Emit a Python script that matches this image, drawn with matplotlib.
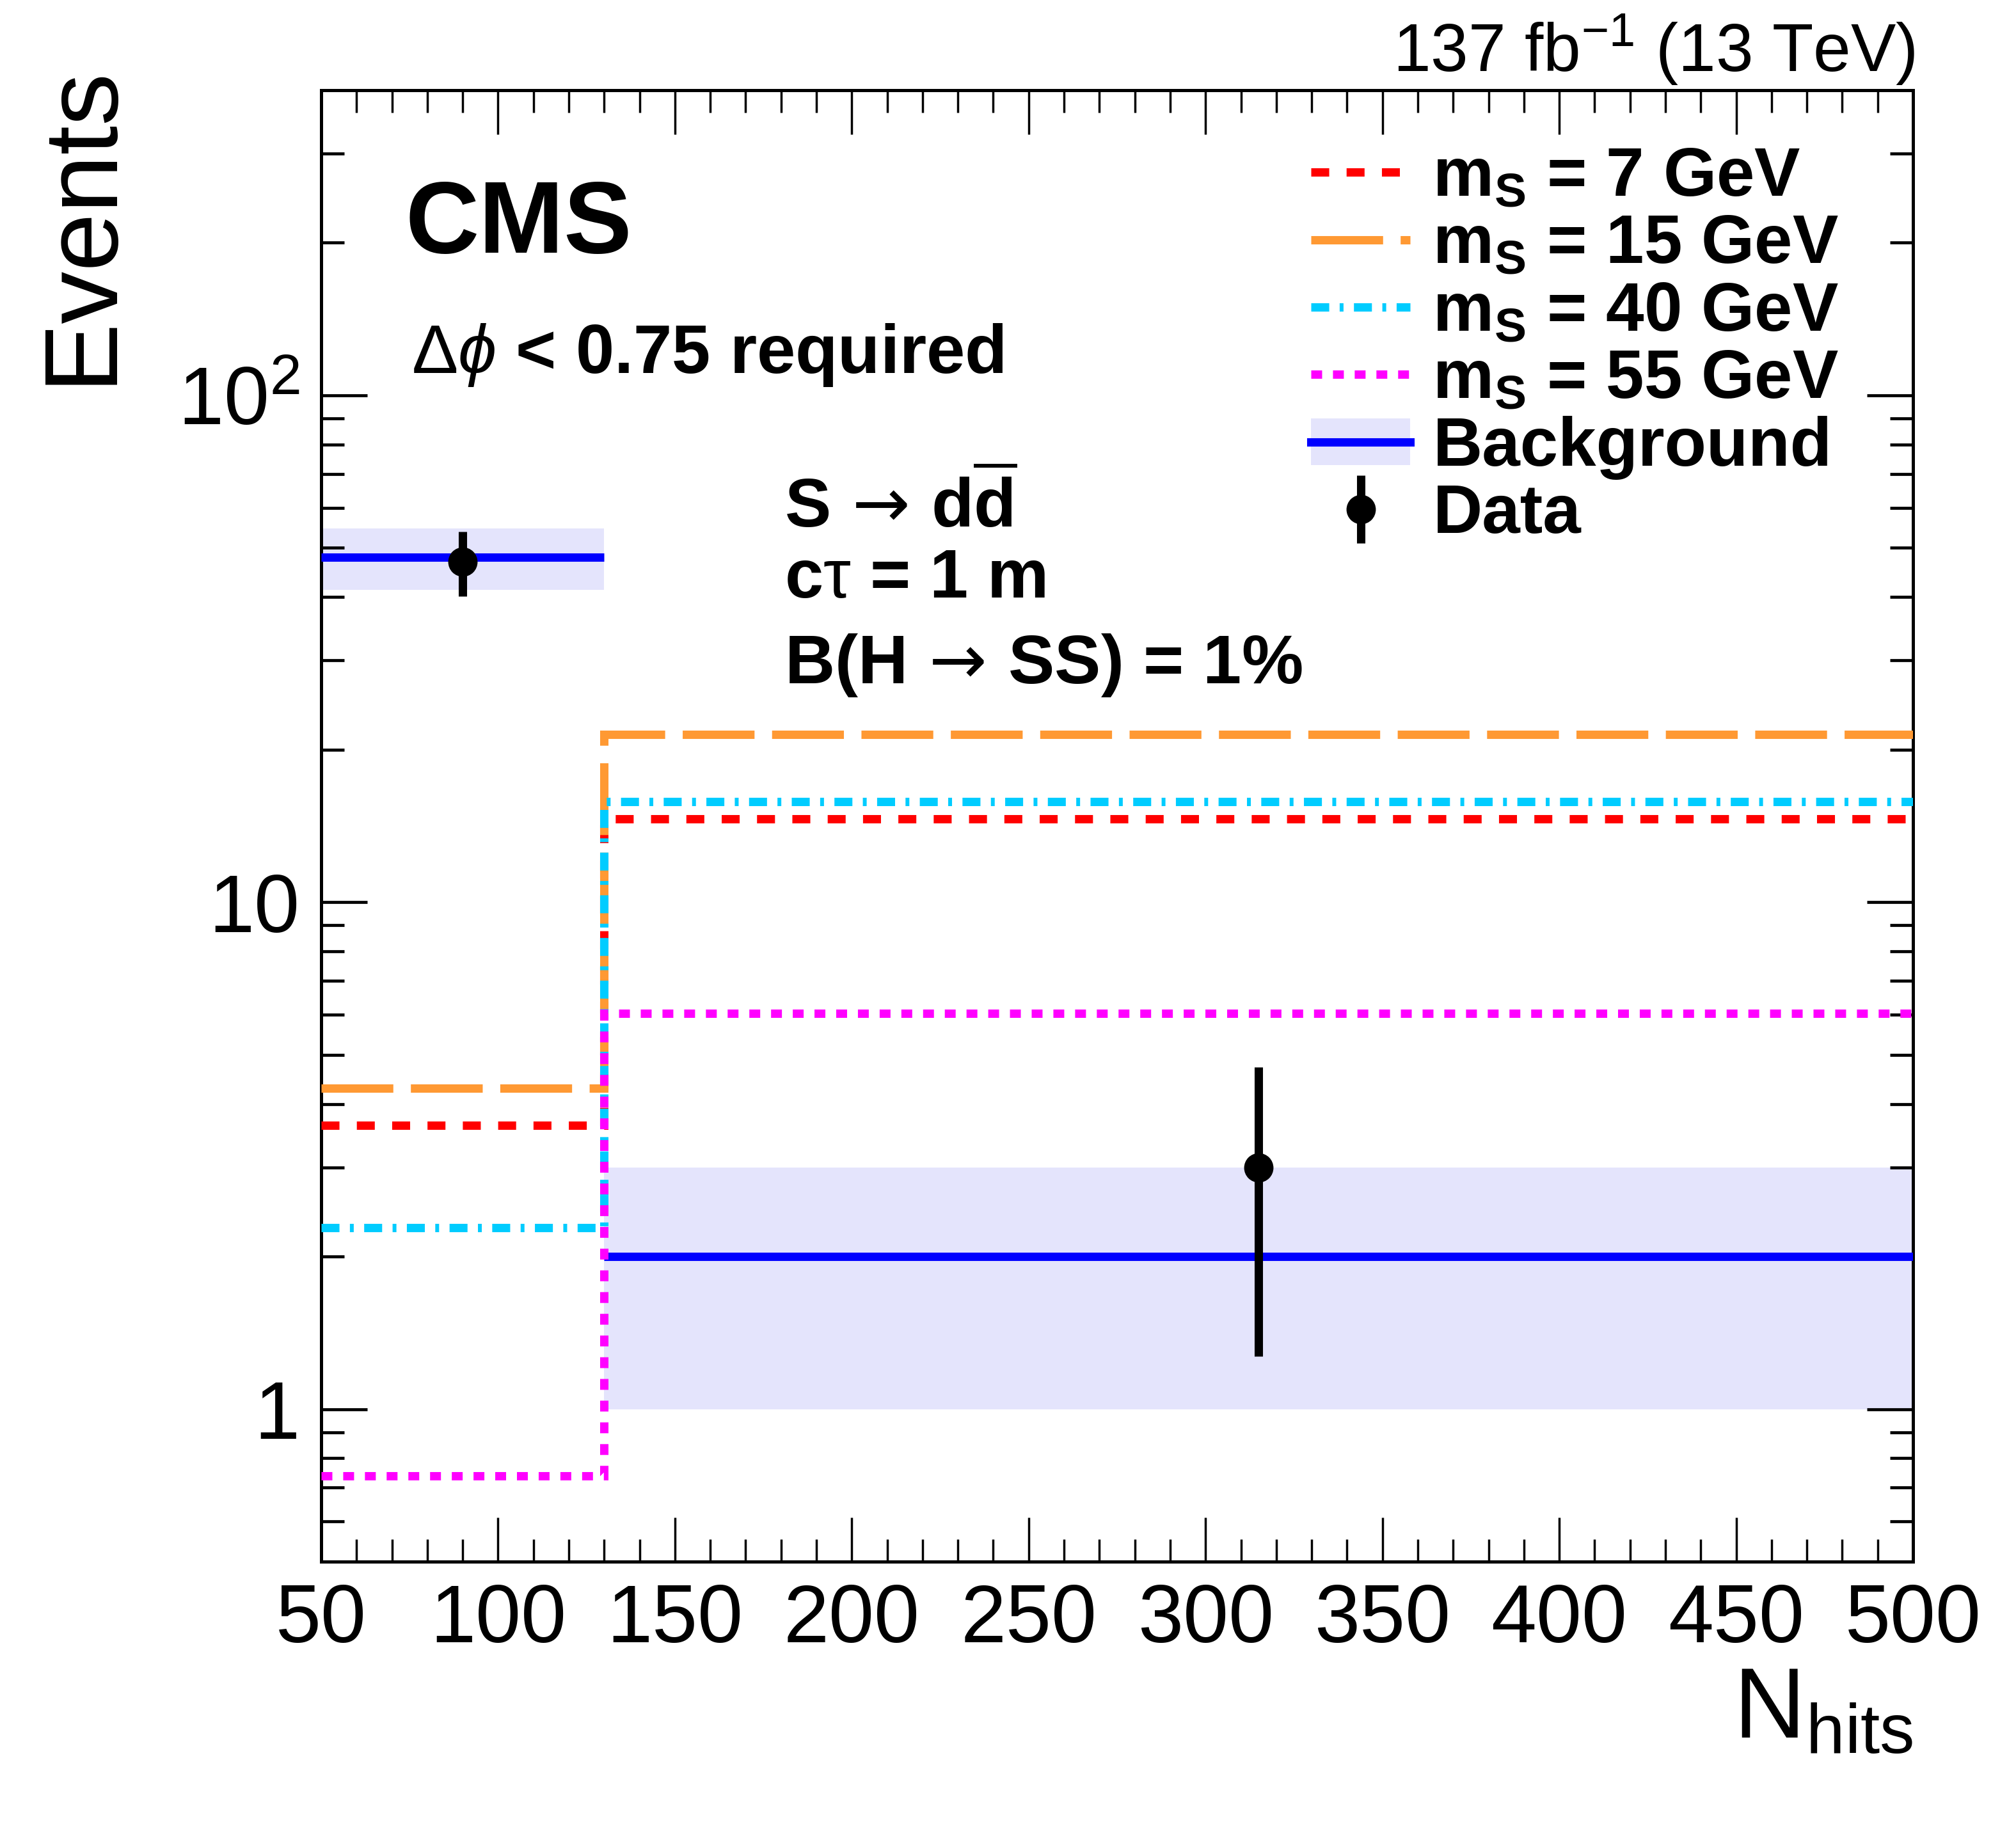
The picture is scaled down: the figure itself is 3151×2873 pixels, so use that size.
import numpy as np
import matplotlib
matplotlib.use("Agg")
import matplotlib.pyplot as plt
from matplotlib.lines import Line2D
from matplotlib.patches import Patch
from matplotlib.ticker import MultipleLocator, LogLocator, FuncFormatter, NullFormatter

plt.rcParams['font.family'] = ['Liberation Sans', 'DejaVu Sans']
plt.rcParams['mathtext.fontset'] = 'custom'
plt.rcParams['mathtext.rm'] = 'Liberation Sans'
plt.rcParams['mathtext.it'] = 'Liberation Sans:italic'
plt.rcParams['mathtext.bf'] = 'Liberation Sans:bold'
plt.rcParams['mathtext.sf'] = 'DejaVu Sans'

# ---------------- data ----------------
bin_edges = [50, 130, 500]
sig_ms7 = [3.63, 14.6]
sig_ms15 = [4.30, 21.4]
sig_ms40 = [2.28, 15.8]
sig_ms55 = [0.739, 6.04]
bkg = [48.0, 2.0]
bkg_up = [54.6, 3.0]
bkg_down = [41.3, 1.0]
data = [47, 3]
data_err = [6.86, 1.73]
legend_labels = [r'$\mathbf{m_{S}}$ = 7 GeV', r'$\mathbf{m_{S}}$ = 15 GeV',
                 r'$\mathbf{m_{S}}$ = 40 GeV', r'$\mathbf{m_{S}}$ = 55 GeV',
                 'Background', 'Data']

# ---------------- styles ----------------
LW = 9.4
c_red, c_orange, c_cyan, c_mag = '#FF0000', '#FF9933', '#00CCFF', '#FF00FF'
c_blue, c_band = '#0000FF', '#E4E4FC'
ls_red = (0, (2.15, 2.08))
ls_orange = (0, (8.6, 2.1))
ls_cyan = (0, (2.15, 1.25, 0.46, 1.25))
ls_mag = (0, (1.3, 1.3))

fig = plt.figure(figsize=(31.51, 28.73), dpi=100)
ax = fig.add_axes([502/3151, 1-2441/2873, (2990-502)/3151, (2441-141)/2873])

edges = np.array(bin_edges, dtype=float)
centers = 0.5 * (edges[:-1] + edges[1:])

# background band and line
ax.stairs(bkg_up, edges, baseline=bkg_down, fill=True, color=c_band, lw=0, zorder=1)
ax.hlines(bkg, edges[:-1], edges[1:], colors=c_blue, lw=LW, zorder=3)

# signals
ax.stairs(sig_ms7, edges, baseline=None, color=c_red, lw=LW, linestyle=ls_red, zorder=4)
ax.stairs(sig_ms15, edges, baseline=None, color=c_orange, lw=LW, linestyle=ls_orange, zorder=4)
ax.stairs(sig_ms40, edges, baseline=None, color=c_cyan, lw=LW, linestyle=ls_cyan, zorder=4)
ax.stairs(sig_ms55, edges, baseline=None, color=c_mag, lw=LW, linestyle=ls_mag, zorder=4)

# data
eb = ax.errorbar(centers, data, yerr=data_err, fmt='o', color='black', ms=32,
                 elinewidth=LW, capsize=0, zorder=6)

ax.set_xlim(50, 500)
ax.set_yscale('log')
ax.set_ylim(0.5, 400)

ax.xaxis.set_major_locator(MultipleLocator(50))
ax.xaxis.set_minor_locator(MultipleLocator(10))
ax.yaxis.set_major_locator(LogLocator(base=10, numticks=10))
ax.yaxis.set_minor_locator(LogLocator(base=10, subs=np.arange(2, 10), numticks=20))
ax.yaxis.set_minor_formatter(NullFormatter())


def yfmt(v, pos):
    if abs(v - 1) < 1e-9:
        return '1'
    if abs(v - 10) < 1e-9:
        return '10'
    e = int(round(np.log10(v)))
    return r'$\mathregular{10^{%d}}$' % e


ax.yaxis.set_major_formatter(FuncFormatter(yfmt))

ax.tick_params(which='both', direction='in', top=True, right=True)
ax.tick_params(axis='x', which='major', length=50, width=2.5, labelsize=92, pad=24)
ax.tick_params(axis='x', which='minor', length=25, width=2.5)
ax.tick_params(axis='y', which='major', length=52, width=3.4, labelsize=92, pad=24)
ax.tick_params(axis='y', which='minor', length=26, width=3.4)
for sp in ax.spines.values():
    sp.set_linewidth(3.6)

# axis titles
fig.text(52/3151, 1-100/2873, 'Events', rotation=90, ha='left', va='top', fontsize=118)
fig.text(2990/3151, 1-2716/2873, r'$\mathregular{N_{hits}}$', ha='right', va='baseline', fontsize=112)

# texts
fig.text(2994/3151, 1-112/2873, r'137 fb$^{\mathregular{-1}}$ (13 TeV)', ha='right', va='baseline', fontsize=76)
ax.text(0.0527, 0.8895, 'CMS', transform=ax.transAxes, fontsize=115, fontweight='bold', va='baseline')
ax.text(0.0567, 0.8077, r'$\Delta\phi$ < 0.75 required', transform=ax.transAxes, fontsize=78,
        fontweight='bold', va='baseline')
ax.text(0.291, 0.7032, r'S$\mathsf{\,\rightarrow\,}$d$\overline{\mathbf{d}}$', transform=ax.transAxes,
        fontsize=78, fontweight='bold', va='baseline')
ax.text(0.291, 0.6554, r'c$\mathrm{\tau}$ = 1 m', transform=ax.transAxes, fontsize=78,
        fontweight='bold', va='baseline')
ax.text(0.291, 0.5970, r'B(H$\mathsf{\,\rightarrow\,}$SS) = 1%', transform=ax.transAxes, fontsize=78,
        fontweight='bold', va='baseline')

# legend
handles = [
    Line2D([], [], color=c_red, lw=LW, linestyle=ls_red),
    Line2D([], [], color=c_orange, lw=LW, linestyle=ls_orange),
    Line2D([], [], color=c_cyan, lw=LW, linestyle=ls_cyan),
    Line2D([], [], color=c_mag, lw=LW, linestyle=ls_mag),
    (Patch(facecolor=c_band, edgecolor='none'), Line2D([], [], color=c_blue, lw=LW)),
    eb,
]
ax.legend(handles, legend_labels, loc='upper left', bbox_to_anchor=(0.6218, 0.962),
          frameon=False, prop={'weight': 'bold', 'size': 77}, handlelength=1.45,
          handleheight=0.68, handletextpad=0.33, labelspacing=0.05, borderpad=0,
          borderaxespad=0)

fig.savefig('out.png', dpi=100)
